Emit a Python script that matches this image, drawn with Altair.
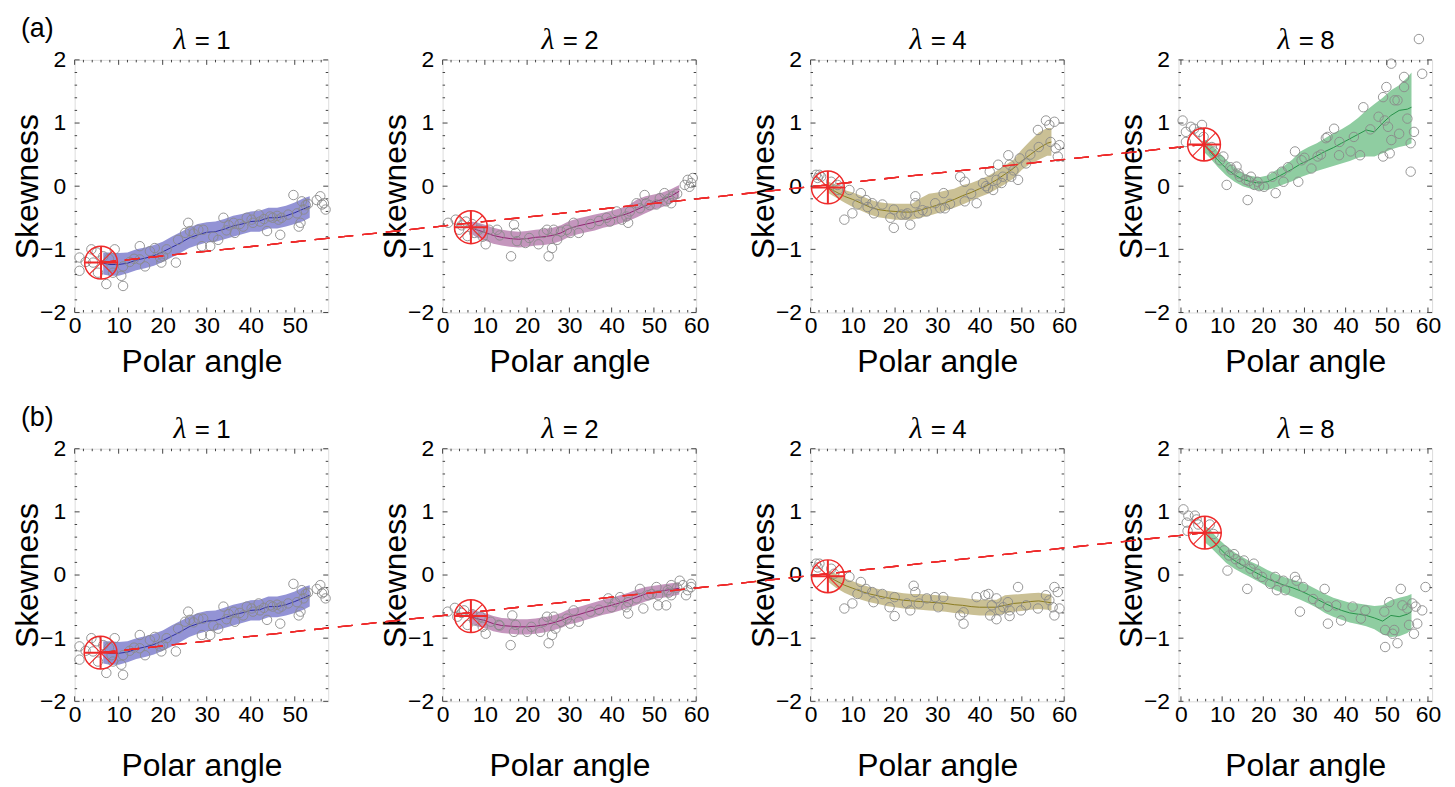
import altair as alt
import pandas as pd

# ---------------- layout constants ----------------
W, H = 255, 254
SPX, SPY = 115, 137
YDOM = [-2, 2]
XDOM = [[0, 57.6], [0, 60], [0, 60], [-0.6, 61]]
XMAJ = [[0, 10, 20, 30, 40, 50], [0, 10, 20, 30, 40, 50, 60],
        [0, 10, 20, 30, 40, 50, 60], [0, 10, 20, 30, 40, 50, 60]]
XMIN = [[v for v in range(2, 57, 2) if v % 10], [v for v in range(2, 60, 2) if v % 10],
        [v for v in range(2, 60, 2) if v % 10], [v for v in range(2, 60, 2) if v % 10]]
YMAJ = [-2, -1, 0, 1, 2]
YMIN = [round(-2 + 0.2 * i, 1) for i in range(1, 20) if i % 5]
LAMBDAS = ["1", "2", "4", "8"]

BAND_COLORS = ["#9393d5", "#c496bd", "#cac095", "#8fcda1"]
LINE_COLORS = ["#2e2e9e", "#8e2470", "#8a7b20", "#27924a"]
RED = "#ee2a2a"
GRAY = "#8a8a8a"

# ---------------- data: panel 1 (identical in rows a and b) ----------------
P1_BX = [6.5, 8, 10, 12, 14, 16, 18, 20, 22, 24, 26, 28, 30, 32, 34, 36, 38, 40, 42, 44, 46, 48, 50, 52, 53.4]
P1_M = [-1.22, -1.24, -1.24, -1.22, -1.17, -1.14, -1.10, -1.04, -0.97, -0.90, -0.82, -0.77, -0.73, -0.72,
        -0.68, -0.63, -0.60, -0.56, -0.55, -0.50, -0.50, -0.47, -0.42, -0.36, -0.32]
P1_LO = [-1.40, -1.42, -1.42, -1.38, -1.33, -1.30, -1.26, -1.20, -1.13, -1.06, -0.98, -0.93, -0.89, -0.88,
         -0.84, -0.80, -0.76, -0.72, -0.72, -0.67, -0.67, -0.64, -0.60, -0.55, -0.50]
P1_HI = [-1.05, -1.05, -1.06, -1.05, -1.00, -0.97, -0.93, -0.88, -0.80, -0.73, -0.66, -0.60, -0.57, -0.56,
         -0.52, -0.47, -0.44, -0.40, -0.39, -0.34, -0.34, -0.31, -0.26, -0.19, -0.16]
P1_PTS = [(1.1, -1.13), (1.1, -1.34), (3.8, -1.00), (4.2, -1.21), (5.3, -1.37), (6.5, -1.11), (7.2, -1.55),
          (8.4, -1.27), (9.1, -1.00), (8.7, -1.37), (11.0, -1.27), (11.0, -1.58), (10.6, -1.42), (14.8, -0.95),
          (16.0, -1.27), (14.8, -1.16), (17.1, -1.03), (18.2, -0.98), (19.4, -1.13), (20.1, -1.11), (20.9, -1.00),
          (19.7, -1.21), (23.0, -1.21), (23.5, -0.85), (25.1, -0.74), (25.8, -0.58), (26.2, -0.71), (28.1, -0.69),
          (28.9, -0.95), (29.2, -0.69), (30.8, -0.95), (32.6, -0.85), (33.8, -0.50), (36.1, -0.58), (36.4, -0.74),
          (38.3, -0.64), (39.1, -0.50), (40.2, -0.53), (41.8, -0.45), (42.1, -0.56), (43.7, -0.71), (44.4, -0.48),
          (46.0, -0.47), (46.7, -0.77), (46.3, -0.53), (49.7, -0.14), (50.5, -0.43), (50.9, -0.64), (51.3, -0.58),
          (51.6, -0.24), (52.0, -0.37), (55.0, -0.22), (55.8, -0.16), (56.2, -0.29), (57.0, -0.37), (56.6, -0.27),
          (2.5, -1.20), (5.0, -1.05), (7.8, -1.15), (12.5, -1.20), (13.5, -1.15), (27.0, -0.75), (31.5, -0.80),
          (34.5, -0.70), (35.0, -0.62), (37.5, -0.60), (40.5, -0.58), (43.0, -0.52), (45.0, -0.50), (47.0, -0.50),
          (48.5, -0.45), (52.5, -0.30), (53.0, -0.28)]

# ---------------- row a, panel 2 ----------------
A2_BX = [6.7, 8, 10, 12, 14, 16, 18, 20, 22, 24, 26, 28, 30, 32, 34, 36, 38, 40, 42, 44, 46, 48, 50, 52, 54, 56]
A2_M = [-0.65, -0.69, -0.73, -0.78, -0.81, -0.83, -0.84, -0.83, -0.81, -0.80, -0.78, -0.74, -0.67, -0.63,
        -0.60, -0.57, -0.54, -0.51, -0.47, -0.43, -0.37, -0.31, -0.25, -0.21, -0.16, -0.08]
A2_LO = [-0.75, -0.81, -0.86, -0.91, -0.94, -0.96, -0.97, -0.96, -0.94, -0.93, -0.91, -0.87, -0.80, -0.76,
         -0.73, -0.70, -0.66, -0.63, -0.59, -0.55, -0.49, -0.43, -0.37, -0.33, -0.28, -0.18]
A2_HI = [-0.56, -0.57, -0.61, -0.66, -0.69, -0.71, -0.72, -0.71, -0.69, -0.68, -0.66, -0.62, -0.55, -0.51,
         -0.48, -0.45, -0.42, -0.39, -0.35, -0.30, -0.21, -0.16, -0.13, -0.10, -0.05, 0.02]
A2_PTS = [(1.3, -0.58), (3.1, -0.53), (3.9, -0.69), (5.5, -0.56), (5.9, -0.79), (7.5, -0.74), (8.6, -0.69),
          (10.2, -0.92), (11.0, -0.69), (12.9, -0.69), (16.2, -1.11), (16.9, -0.61), (17.3, -0.74), (17.6, -0.87),
          (19.6, -0.90), (22.7, -0.92), (23.9, -0.74), (24.7, -0.69), (25.1, -1.11), (25.9, -0.98), (26.3, -0.69),
          (27.1, -0.85), (29.4, -0.69), (30.2, -0.74), (31.0, -0.58), (32.2, -0.74), (38.8, -0.50), (39.6, -0.56),
          (41.2, -0.40), (42.4, -0.53), (43.5, -0.48), (43.9, -0.58), (44.3, -0.40), (45.9, -0.27), (46.7, -0.35),
          (47.8, -0.14), (48.2, -0.27), (50.6, -0.29), (51.4, -0.19), (52.5, -0.11), (52.9, -0.24), (54.1, -0.27),
          (54.5, -0.16), (57.3, 0.02), (58.0, 0.10), (58.4, -0.01), (59.2, 0.13), (58.8, 0.05),
          (4.5, -0.62), (7.0, -0.60), (9.5, -0.80), (13.5, -0.78), (20.5, -0.82), (28.0, -0.72), (35.0, -0.60),
          (37.0, -0.55), (49.0, -0.30), (53.5, -0.20), (55.5, -0.12)]

# ---------------- row b, panel 2 ----------------
B2_BX = A2_BX
B2_M = [-0.65, -0.69, -0.72, -0.77, -0.80, -0.81, -0.82, -0.82, -0.81, -0.79, -0.76, -0.72, -0.66, -0.63,
        -0.59, -0.55, -0.51, -0.48, -0.44, -0.40, -0.35, -0.30, -0.27, -0.25, -0.23, -0.21]
B2_LO = [-0.76, -0.81, -0.84, -0.89, -0.92, -0.93, -0.94, -0.94, -0.93, -0.91, -0.88, -0.84, -0.78, -0.75,
         -0.71, -0.67, -0.63, -0.60, -0.56, -0.52, -0.47, -0.42, -0.38, -0.36, -0.34, -0.31]
B2_HI = [-0.55, -0.57, -0.60, -0.65, -0.68, -0.69, -0.70, -0.70, -0.69, -0.67, -0.64, -0.60, -0.54, -0.51,
         -0.47, -0.43, -0.39, -0.36, -0.32, -0.28, -0.23, -0.19, -0.17, -0.15, -0.13, -0.12]
B2_PTS = [(1.2, -0.58), (2.9, -0.52), (3.5, -0.66), (5.1, -0.56), (5.9, -0.79), (7.5, -0.72), (9.0, -0.66),
          (10.2, -0.93), (11.4, -0.74), (13.3, -0.79), (16.1, -1.11), (16.5, -0.64), (17.3, -0.79), (16.9, -0.90),
          (20.0, -0.90), (23.1, -0.90), (23.9, -0.74), (24.7, -0.66), (25.1, -1.08), (25.9, -0.95), (26.3, -0.66),
          (26.7, -0.85), (29.4, -0.69), (30.2, -0.77), (31.0, -0.56), (32.2, -0.74), (39.2, -0.37), (40.0, -0.51),
          (40.8, -0.43), (42.0, -0.35), (43.5, -0.51), (43.9, -0.61), (43.9, -0.43), (45.9, -0.37), (46.7, -0.22),
          (47.5, -0.53), (48.6, -0.32), (50.6, -0.19), (51.0, -0.32), (51.0, -0.48), (52.9, -0.48), (53.3, -0.24),
          (54.1, -0.16), (54.1, -0.32), (56.1, -0.09), (56.9, -0.16), (57.6, -0.32), (58.0, -0.24), (58.8, -0.19),
          (58.8, -0.14), (4.5, -0.60), (7.0, -0.62), (9.5, -0.82), (13.5, -0.80), (21.0, -0.82), (28.0, -0.74),
          (35.0, -0.58), (37.0, -0.55), (49.5, -0.30), (53.5, -0.28), (55.5, -0.20)]

# ---------------- row a, panel 3 ----------------
A3_BX = [4, 6, 8, 10, 12, 14, 16, 18, 20, 22, 24, 26, 28, 30, 32, 34, 36, 38, 40, 42, 44, 46, 48, 50, 52, 54, 56, 57]
A3_M = [-0.02, -0.09, -0.16, -0.21, -0.27, -0.33, -0.37, -0.39, -0.40, -0.41, -0.41, -0.38, -0.34, -0.30,
        -0.26, -0.21, -0.15, -0.10, -0.04, 0.02, 0.10, 0.19, 0.28, 0.40, 0.50, 0.60, 0.68, 0.70]
A3_LO = [-0.10, -0.18, -0.26, -0.33, -0.39, -0.45, -0.49, -0.51, -0.53, -0.53, -0.53, -0.50, -0.47, -0.43,
         -0.39, -0.34, -0.29, -0.23, -0.17, -0.12, -0.05, 0.03, 0.12, 0.26, 0.35, 0.42, 0.48, 0.48]
A3_HI = [0.08, 0.02, -0.06, -0.10, -0.15, -0.21, -0.25, -0.27, -0.28, -0.28, -0.28, -0.19, -0.12, -0.10,
         -0.07, -0.04, 0.02, 0.05, 0.10, 0.16, 0.24, 0.33, 0.42, 0.58, 0.72, 0.85, 0.92, 0.92]
A3_PTS = [(1.3, 0.18), (2.1, 0.18), (2.5, 0.15), (1.7, 0.13), (4.9, 0.07), (6.4, 0.02), (8.0, -0.53),
          (9.2, -0.06), (9.9, -0.43), (11.1, -0.29), (11.9, -0.11), (13.1, -0.22), (14.6, -0.27), (15.0, -0.43),
          (17.0, -0.29), (18.9, -0.50), (19.7, -0.37), (19.7, -0.66), (22.5, -0.45), (22.9, -0.43), (23.6, -0.61),
          (24.8, -0.16), (24.8, -0.27), (25.6, -0.43), (27.5, -0.40), (29.5, -0.27), (30.7, -0.35), (31.5, -0.11),
          (31.8, -0.35), (35.4, 0.15), (36.5, 0.07), (36.5, -0.24), (39.3, -0.27), (40.8, 0.05), (42.4, 0.23),
          (42.0, -0.03), (43.2, -0.06), (44.0, 0.10), (44.4, 0.34), (45.2, 0.05), (46.8, 0.49), (47.1, 0.34),
          (47.5, 0.15), (49.1, 0.10), (49.5, 0.44), (51.0, 0.36), (53.8, 0.89), (55.7, 1.04), (56.5, 0.97),
          (57.7, 1.02), (56.8, 0.70), (58.0, 0.60), (58.5, 0.47), (58.9, 0.65),
          (6.5, -0.06), (13.5, -0.33), (21.5, -0.45), (26.5, -0.38), (33.0, -0.28), (38.0, -0.12), (41.5, 0.00),
          (45.5, 0.15), (48.0, 0.25), (52.0, 0.50), (54.0, 0.62)]

# ---------------- row b, panel 3 ----------------
B3_BX = A3_BX
B3_M = [-0.02, -0.09, -0.16, -0.21, -0.26, -0.30, -0.33, -0.36, -0.38, -0.40, -0.41, -0.42, -0.43, -0.44,
        -0.45, -0.47, -0.48, -0.50, -0.51, -0.51, -0.51, -0.48, -0.45, -0.44, -0.42, -0.41, -0.43, -0.44]
B3_LO = [-0.10, -0.20, -0.28, -0.34, -0.39, -0.43, -0.46, -0.49, -0.51, -0.53, -0.54, -0.55, -0.56, -0.57,
         -0.58, -0.60, -0.61, -0.63, -0.64, -0.64, -0.64, -0.61, -0.58, -0.57, -0.55, -0.54, -0.55, -0.56]
B3_HI = [0.08, 0.02, -0.05, -0.10, -0.15, -0.19, -0.22, -0.25, -0.27, -0.29, -0.30, -0.30, -0.31, -0.32,
         -0.33, -0.35, -0.36, -0.38, -0.39, -0.39, -0.39, -0.32, -0.31, -0.30, -0.29, -0.28, -0.30, -0.31]
B3_PTS = [(1.3, 0.18), (2.1, 0.18), (1.7, 0.12), (4.9, 0.10), (5.6, 0.02), (8.0, -0.53), (9.2, -0.03),
          (9.9, -0.45), (11.1, -0.30), (11.9, -0.11), (13.1, -0.22), (14.6, -0.27), (14.9, -0.43), (17.0, -0.30),
          (18.7, -0.51), (19.9, -0.35), (19.9, -0.65), (22.8, -0.45), (23.6, -0.56), (24.4, -0.17), (24.8, -0.27),
          (25.6, -0.45), (27.5, -0.37), (29.5, -0.35), (30.2, -0.51), (31.4, -0.35), (36.2, -0.59), (36.2, -0.77),
          (35.4, -0.64), (39.3, -0.35), (41.3, -0.32), (42.1, -0.30), (42.5, -0.64), (42.9, -0.48), (44.0, -0.37),
          (44.0, -0.70), (44.8, -0.56), (45.6, -0.51), (46.7, -0.43), (47.1, -0.56), (47.1, -0.65), (49.1, -0.19),
          (49.8, -0.56), (51.0, -0.48), (53.8, -0.53), (55.7, -0.32), (56.5, -0.40), (57.3, -0.51), (57.7, -0.64),
          (57.7, -0.19), (58.5, -0.27), (58.9, -0.53)]

# ---------------- row a, panel 4 ----------------
A4_BX = [5.5, 7, 9, 11, 13, 15, 17, 19, 21, 23, 25, 27, 29, 31, 33, 35, 37, 39, 41, 43, 45, 47, 49, 51, 53, 55, 56]
A4_M = [0.66, 0.55, 0.41, 0.28, 0.18, 0.11, 0.07, 0.05, 0.07, 0.13, 0.20, 0.27, 0.35, 0.41, 0.48, 0.55, 0.61,
        0.68, 0.75, 0.82, 0.89, 0.86, 1.00, 1.12, 1.20, 1.22, 1.25]
A4_LO = [0.55, 0.45, 0.30, 0.17, 0.07, 0.00, -0.04, -0.07, -0.06, -0.02, 0.03, 0.08, 0.14, 0.19, 0.24, 0.28,
         0.32, 0.36, 0.40, 0.45, 0.47, 0.47, 0.52, 0.58, 0.62, 0.65, 0.68]
A4_HI = [0.75, 0.68, 0.55, 0.42, 0.30, 0.21, 0.16, 0.14, 0.17, 0.25, 0.32, 0.42, 0.55, 0.62, 0.68, 0.76, 0.84,
         0.90, 0.98, 1.08, 1.20, 1.30, 1.40, 1.52, 1.60, 1.72, 1.80]
A4_PTS = [(0.4, 1.04), (1.2, 0.86), (1.2, 0.70), (2.4, 0.94), (3.2, 0.91), (4.4, 0.86), (5.1, 0.97), (5.5, 0.78),
          (7.5, 0.62), (9.5, 0.41), (10.3, 0.47), (11.1, 0.02), (12.3, 0.26), (13.5, 0.31), (14.3, 0.15),
          (15.8, 0.10), (16.2, -0.22), (17.0, 0.15), (17.8, 0.02), (18.6, 0.07), (20.2, -0.01), (22.2, 0.15),
          (23.0, -0.11), (24.5, 0.23), (24.9, 0.07), (27.7, 0.55), (28.5, 0.07), (29.3, 0.41), (31.7, 0.28),
          (33.2, 0.47), (35.2, 0.76), (35.6, 0.78), (37.2, 0.91), (38.4, 0.49), (41.2, 0.55), (43.5, 0.49),
          (44.3, 1.25), (49.1, 1.41), (49.1, 0.47), (49.9, 1.57), (49.5, 1.04), (50.3, 0.94), (50.7, 0.52),
          (51.1, 1.94), (51.1, 0.73), (51.9, 1.36), (52.6, 1.36), (53.0, 0.83), (54.2, 1.73), (54.2, 1.57),
          (55.0, 1.07), (55.8, 0.68), (55.8, 0.23), (56.6, 0.86), (57.8, 2.33), (58.6, 1.78),
          (8.0, 0.55), (12.0, 0.30), (14.0, 0.20), (16.5, 0.08), (19.0, 0.00), (26.0, 0.30), (30.0, 0.45),
          (34.0, 0.50), (38.5, 0.70), (42.0, 0.78), (46.0, 0.90), (48.0, 1.10)]

# ---------------- row b, panel 4 ----------------
B4_BX = [5.8, 7, 9, 11, 13, 15, 17, 19, 21, 23, 25, 27, 29, 31, 33, 35, 37, 39, 41, 43, 45, 47, 49, 51, 53, 55, 56]
B4_M = [0.67, 0.59, 0.45, 0.32, 0.23, 0.15, 0.08, 0.01, -0.06, -0.11, -0.16, -0.20, -0.25, -0.31, -0.38, -0.45,
        -0.51, -0.56, -0.60, -0.62, -0.64, -0.68, -0.73, -0.64, -0.66, -0.62, -0.58]
B4_LO = [0.52, 0.45, 0.32, 0.19, 0.10, 0.03, -0.04, -0.11, -0.18, -0.24, -0.29, -0.34, -0.39, -0.45, -0.52,
         -0.60, -0.66, -0.71, -0.75, -0.78, -0.81, -0.86, -0.94, -0.98, -0.97, -0.92, -0.86]
B4_HI = [0.78, 0.72, 0.58, 0.46, 0.36, 0.28, 0.21, 0.15, 0.08, 0.02, -0.03, -0.07, -0.11, -0.16, -0.23, -0.30,
         -0.36, -0.40, -0.44, -0.45, -0.47, -0.49, -0.48, -0.40, -0.36, -0.33, -0.30]
B4_PTS = [(0.6, 1.04), (1.4, 0.83), (1.6, 0.70), (1.8, 0.94), (3.4, 0.94), (3.8, 0.88), (4.2, 0.80), (7.0, 0.80),
          (7.9, 0.65), (10.5, 0.39), (11.3, 0.07), (11.7, 0.31), (12.9, 0.33), (13.3, 0.25), (14.5, 0.18),
          (15.3, 0.23), (16.1, -0.22), (16.9, 0.10), (17.7, 0.18), (18.5, 0.02), (19.7, -0.03), (21.7, -0.14),
          (22.9, -0.03), (23.3, -0.24), (24.9, -0.09), (25.3, -0.24), (27.7, -0.03), (28.1, -0.09), (28.9, -0.58),
          (29.7, -0.19), (32.1, -0.38), (33.7, -0.45), (34.9, -0.22), (35.7, -0.50), (35.7, -0.77), (37.7, -0.48),
          (38.9, -0.72), (41.7, -0.50), (43.7, -0.69), (44.8, -0.56), (49.4, -0.58), (49.6, -0.87), (49.6, -1.14),
          (50.6, -0.43), (51.4, -0.93), (51.8, -0.87), (52.6, -1.08), (53.4, -0.22), (53.8, -0.48), (55.0, -0.53),
          (55.4, -0.79), (56.2, -0.45), (56.6, -0.93), (57.0, -0.50), (57.4, -0.77), (58.6, -0.56), (59.4, -0.19)]

# red markers (x, y) in each panel's own coordinates
MARK_A = [(6.0, -1.21), (6.7, -0.65), (4.1, -0.02), (5.6, 0.66)]
MARK_B = [(5.9, -1.23), (6.7, -0.65), (4.1, -0.02), (5.8, 0.67)]

ROW_A = [(P1_PTS, P1_BX, P1_M, P1_LO, P1_HI), (A2_PTS, A2_BX, A2_M, A2_LO, A2_HI),
         (A3_PTS, A3_BX, A3_M, A3_LO, A3_HI), (A4_PTS, A4_BX, A4_M, A4_LO, A4_HI)]
ROW_B = [(P1_PTS, P1_BX, P1_M, P1_LO, P1_HI), (B2_PTS, B2_BX, B2_M, B2_LO, B2_HI),
         (B3_PTS, B3_BX, B3_M, B3_LO, B3_HI), (B4_PTS, B4_BX, B4_M, B4_LO, B4_HI)]

FONT = "Liberation Sans"


def to_global(k, x):
    d0, d1 = XDOM[k]
    return k * (W + SPX) + (x - d0) / (d1 - d0) * W


def to_local(k, gx):
    d0, d1 = XDOM[k]
    return d0 + (gx - k * (W + SPX)) / W * (d1 - d0)


def panel(k, data, marks, letter, xtitle_y):
    pts, bx, bm, blo, bhi = data
    d0, d1 = XDOM[k]
    xs = alt.Scale(domain=[d0, d1], nice=False, zero=False)
    ys = alt.Scale(domain=YDOM, nice=False, zero=False)
    xaxis = alt.Axis(values=XMAJ[k], title="Polar angle", grid=False, ticks=False, domain=False,
                     labelFontSize=23, labelPadding=2, labelFlush=False, labelOverlap=False, format="d",
                     labelColor="black", labelFont=FONT, titleFont=FONT, titleFontSize=32,
                     titleFontWeight="normal", titleColor="black", titleY=xtitle_y,
                     titleBaseline="middle", titleAlign="center")
    yaxis = alt.Axis(values=YMAJ, title="Skewness", grid=False, ticks=False, domain=False,
                     labelFontSize=23, labelPadding=9, labelFlush=False, labelOverlap=False, format="d",
                     labelColor="black", labelFont=FONT, titleFont=FONT, titleFontSize=32,
                     titleFontWeight="normal", titleColor="black", titleX=-47, titleY=H / 2,
                     titleAngle=270, titleAlign="center", titleBaseline="middle")

    def X(f):
        return alt.X(f, type="quantitative", scale=xs, axis=xaxis)

    def Y(f):
        return alt.Y(f, type="quantitative", scale=ys, axis=yaxis)

    band_df = pd.DataFrame({"x": bx, "m": bm, "lo": blo, "hi": bhi})
    pts_df = pd.DataFrame({"px": [p[0] for p in pts], "py": [p[1] for p in pts]})
    mk_df = pd.DataFrame({"mx": [marks[k][0]], "my": [marks[k][1]]})
    g1 = to_global(0, marks[0][0])
    g4 = to_global(3, marks[3][0])
    dash_df = pd.DataFrame({"lx": [to_local(k, g1), to_local(k, g4)],
                            "ly": [marks[0][1], marks[3][1]]})

    layers = []
    layers.append(alt.Chart(band_df).mark_area(color=BAND_COLORS[k], opacity=1)
                  .encode(x=X("x"), y=Y("lo"), y2=alt.Y2("hi")))
    layers.append(alt.Chart(band_df).mark_line(color=LINE_COLORS[k], strokeWidth=1)
                  .encode(x=X("x"), y=Y("m")))
    layers.append(alt.Chart(pts_df).mark_point(shape="circle", filled=False, color=GRAY, strokeWidth=0.9,
                                               size=90, opacity=1)
                  .encode(x=X("px"), y=Y("py")))
    layers.append(alt.Chart(dash_df).mark_line(color=RED, strokeWidth=1.3, strokeDash=[15, 9])
                  .encode(x=X("lx"), y=Y("ly")))
    layers.append(alt.Chart(mk_df).mark_point(shape="circle", filled=False, color=RED, strokeWidth=1.5,
                                              size=1089, opacity=1)
                  .encode(x=X("mx"), y=Y("my")))
    layers.append(alt.Chart(mk_df).mark_point(shape="M-1,0L1,0M0,-1L0,1", filled=False, color=RED,
                                              strokeWidth=2, size=1089, opacity=1)
                  .encode(x=X("mx"), y=Y("my")))
    layers.append(alt.Chart(mk_df).mark_point(shape="M-0.7071,-0.7071L0.7071,0.7071M-0.7071,0.7071L0.7071,-0.7071",
                                              filled=False, color=RED, strokeWidth=1.1, size=1089, opacity=1)
                  .encode(x=X("mx"), y=Y("my")))
    layers.append(alt.Chart(mk_df).mark_point(shape="circle", filled=True, color=RED, size=14, opacity=1)
                  .encode(x=X("mx"), y=Y("my")))

    # inward frame ticks
    xmaj = pd.DataFrame({"t": XMAJ[k]})
    xmin = pd.DataFrame({"t": XMIN[k]})
    ymaj = pd.DataFrame({"t": YMAJ})
    ymin = pd.DataFrame({"t": YMIN})
    tc = "#444444"
    for df, ln in ((xmaj, 5), (xmin, 2.5)):
        layers.append(alt.Chart(df).mark_rule(color=tc, strokeWidth=1)
                      .encode(x=X("t"), y=alt.value(H), y2=alt.value(H - ln)))
        layers.append(alt.Chart(df).mark_rule(color=tc, strokeWidth=1)
                      .encode(x=X("t"), y=alt.value(0), y2=alt.value(ln)))
    for df, ln in ((ymaj, 5), (ymin, 2.5)):
        layers.append(alt.Chart(df).mark_rule(color=tc, strokeWidth=1)
                      .encode(y=Y("t"), x=alt.value(0), x2=alt.value(ln)))
        layers.append(alt.Chart(df).mark_rule(color=tc, strokeWidth=1)
                      .encode(y=Y("t"), x=alt.value(W), x2=alt.value(W - ln)))

    # panel title: italic lambda, "=" and the value
    one = pd.DataFrame({"a": [0]})
    layers.append(alt.Chart(one).mark_text(text="λ", font="Liberation Serif", fontStyle="italic", fontSize=30,
                                           align="right", baseline="alphabetic", color="black")
                  .encode(x=alt.value(W / 2 - 15), y=alt.value(-11)))
    layers.append(alt.Chart(one).mark_text(text="=", font=FONT, fontSize=26,
                                           align="center", baseline="alphabetic", color="black")
                  .encode(x=alt.value(W / 2 + 1), y=alt.value(-11)))
    layers.append(alt.Chart(one).mark_text(text=LAMBDAS[k], font=FONT, fontSize=26,
                                           align="left", baseline="alphabetic", color="black")
                  .encode(x=alt.value(W / 2 + 15), y=alt.value(-11)))
    if k == 0:
        layers.append(alt.Chart(one).mark_text(text=letter, font=FONT, fontSize=27, align="left",
                                               baseline="alphabetic", color="black")
                      .encode(x=alt.value(-54), y=alt.value(-23)))

    return alt.layer(*layers).properties(width=W, height=H)


panels = ([panel(k, ROW_A[k], MARK_A, "(a)", 49) for k in range(4)] +
          [panel(k, ROW_B[k], MARK_B, "(b)", 65) for k in range(4)])

chart = (alt.concat(*panels, columns=4, spacing={"row": SPY, "column": SPX}, bounds="flush")
         .properties(padding={"left": 3, "top": 4, "right": 5, "bottom": 5})
         .configure_view(stroke="#555555", strokeWidth=1.2)
         .configure(background="white"))

chart.save("out.html", embed_options={"renderer": "svg", "actions": False})
